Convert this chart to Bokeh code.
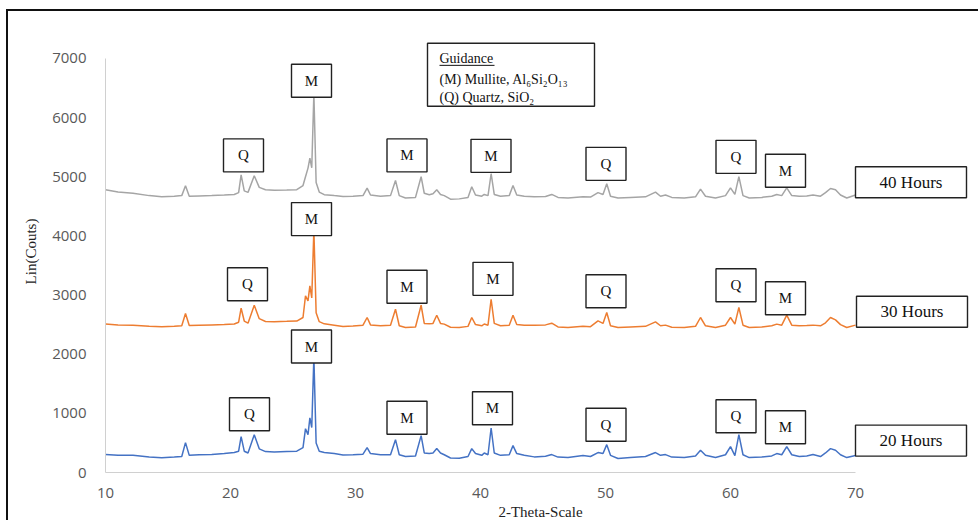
from bokeh.plotting import figure
from bokeh.models import Range1d, FixedTicker
from bokeh.core.properties import value
from bokeh.embed import file_html
from bokeh.resources import INLINE

# ---------------- data ----------------
two_theta = [10, 11, 12.2, 13.5, 14.5, 15.5, 16.1, 16.4, 16.7, 17.5, 18.5, 19.5, 20.3, 20.65, 20.85,
             21.1, 21.4, 21.9, 22.3, 22.8, 23.5, 24.5, 25.3, 25.8, 26.0, 26.2, 26.35, 26.5, 26.67,
             26.85, 27.1, 27.5, 28.3, 29.0, 29.8, 30.6, 30.93, 31.2, 32.0, 32.8, 33.2, 33.5, 34.0,
             34.8, 35.25, 35.5, 35.9, 36.2, 36.5, 36.8, 37.1, 37.6, 38.3, 39.0, 39.3, 39.6, 40.1,
             40.3, 40.6, 40.85, 41.1, 41.6, 42.3, 42.6, 42.9, 43.5, 44.3, 45.2, 45.7, 46.2, 47.0,
             48.2, 48.8, 49.4, 49.8, 50.1, 50.4, 51.0, 52.0, 53.2, 54.0, 54.4, 54.8, 55.3, 56.3,
             57.2, 57.6, 58.0, 58.8, 59.6, 60.0, 60.35, 60.67, 61.0, 61.5, 62.5, 63.3, 63.7, 64.1,
             64.5, 64.9, 65.5, 66.1, 66.6, 67.2, 67.6, 68.0, 68.4, 68.8, 69.3, 70.0]

counts_20h = [303, 290, 290, 262, 250, 262, 270, 505, 290, 300, 305, 320, 337, 360, 606,
              360, 330, 640, 400, 353, 345, 355, 360, 420, 740, 640, 925, 760, 1950,
              500, 360, 337, 320, 297, 300, 310, 420, 320, 300, 300, 555, 300, 270,
              280, 623, 330, 320, 330, 404, 330, 300, 245, 240, 270, 404, 320, 290,
              330, 300, 752, 330, 290, 300, 454, 320, 290, 264, 275, 303, 260, 252,
              286, 270, 337, 320, 471, 290, 236, 252, 270, 337, 290, 303, 260, 252,
              280, 376, 290, 252, 300, 437, 286, 640, 300, 252, 260, 280, 320, 300,
              437, 300, 270, 280, 303, 270, 330, 404, 376, 300, 252, 286]

counts_30h = [2508, 2495, 2490, 2470, 2463, 2470, 2480, 2688, 2485, 2490, 2495, 2500, 2510, 2540, 2777,
              2560, 2524, 2827, 2600, 2553, 2550, 2555, 2560, 2620, 2985, 2900, 3153, 2950, 4100,
              2700, 2550, 2513, 2490, 2468, 2475, 2490, 2620, 2495, 2480, 2490, 2760, 2480, 2451,
              2460, 2827, 2520, 2513, 2520, 2659, 2520, 2508, 2455, 2451, 2470, 2620, 2500, 2480,
              2510, 2490, 2928, 2520, 2480, 2490, 2659, 2500, 2490, 2491, 2495, 2524, 2460, 2451,
              2470, 2465, 2563, 2520, 2704, 2480, 2451, 2460, 2470, 2546, 2480, 2491, 2455, 2451,
              2470, 2620, 2480, 2451, 2490, 2620, 2508, 2789, 2490, 2451, 2460, 2480, 2508, 2490,
              2659, 2490, 2480, 2485, 2491, 2480, 2530, 2620, 2580, 2500, 2451, 2491]

counts_40h = [4780, 4740, 4720, 4680, 4660, 4670, 4680, 4847, 4670, 4675, 4680, 4690, 4700, 4730, 5032,
              4760, 4735, 5015, 4820, 4780, 4770, 4775, 4780, 4850, 5000, 5145, 5313, 5150, 6400,
              4900, 4740, 4696, 4680, 4667, 4670, 4680, 4808, 4690, 4670, 4680, 4936, 4680, 4640,
              4650, 5000, 4720, 4696, 4710, 4780, 4700, 4680, 4620, 4625, 4650, 4830, 4690, 4670,
              4700, 4680, 5050, 4700, 4670, 4680, 4850, 4690, 4670, 4660, 4665, 4700, 4650, 4640,
              4660, 4655, 4730, 4700, 4880, 4670, 4640, 4650, 4660, 4740, 4670, 4690, 4650, 4640,
              4660, 4790, 4670, 4640, 4680, 4810, 4700, 5000, 4680, 4640, 4650, 4670, 4700, 4680,
              4810, 4680, 4670, 4675, 4690, 4670, 4730, 4800, 4780, 4690, 4640, 4690]

x_ticks = [10, 20, 30, 40, 50, 60, 70]
y_ticks = [0, 1000, 2000, 3000, 4000, 5000, 6000, 7000]

# phase labels (text and anchor in data units)
peak_labels = ["Q", "M", "M", "M", "Q", "Q", "M"]
label_x_20h = [21.52, 26.48, 34.12, 40.96, 50.04, 60.44, 64.4]
label_y_20h = [985, 2129, 926, 1086, 808, 951, 766]
label_x_30h = [21.36, 26.48, 34.12, 41.0, 50.04, 60.44, 64.4]
label_y_30h = [3181, 4283, 3139, 3273, 3063, 3164, 2945]
label_x_40h = [21.04, 26.48, 34.12, 40.84, 50.04, 60.44, 64.4]
label_y_40h = [5360, 6622, 5360, 5352, 5217, 5335, 5100]

series_names = ["20 Hours", "30 Hours", "40 Hours"]
series_label_x = [74.44, 74.52, 74.44]
series_label_y = [539, 2718, 4906]

guide_lines = ["Guidance", "(M) Mullite, Al\u2086Si\u2082O\u2081\u2083", "(Q) Quartz, SiO\u2082"]
guide_x = 36.72
guide_y = [7000, 6647, 6344]
guide_box_x = 42.44
guide_box_y = 6722

# ---------------- figure ----------------
SERIF = value("Liberation Serif")
p = figure(width=972, height=511,
           x_range=Range1d(10, 79.6), y_range=Range1d(0, 7471),
           output_backend="svg", toolbar_location=None,
           min_border_left=97, min_border_right=5, min_border_top=19, min_border_bottom=48)
p.margin = (9, 0, 0, 6)
p.styles = {"border-top": "2px solid #111", "border-left": "2px solid #111"}

p.grid.visible = False
p.outline_line_color = None
p.background_fill_color = "white"
p.border_fill_color = "white"

for ax in (p.xaxis[0], p.yaxis[0]):
    ax.axis_line_color = "#d0d0d0"
    ax.axis_line_width = 1
    ax.major_tick_line_color = None
    ax.minor_tick_line_color = None
    ax.major_label_text_color = "#595959"
    ax.major_label_text_font = "Open Sans"
    ax.major_label_text_font_size = "15px"
    ax.axis_label_text_font = "Liberation Serif"
    ax.axis_label_text_font_style = "normal"
    ax.axis_label_text_font_size = "15px"
    ax.axis_label_text_color = "#222222"

p.xaxis[0].ticker = FixedTicker(ticks=x_ticks)
p.xaxis[0].bounds = (10, 70)
p.xaxis[0].major_label_standoff = 9
p.xaxis[0].axis_label = "2-Theta-Scale"
p.xaxis[0].axis_label_standoff = 3

p.yaxis[0].ticker = FixedTicker(ticks=y_ticks)
p.yaxis[0].bounds = (0, 7000)
p.yaxis[0].major_label_standoff = 13
p.yaxis[0].axis_label = "Lin(Couts)"
p.yaxis[0].axis_label_standoff = 10

p.line(two_theta, counts_40h, line_color="#a5a5a5", line_width=1.5)
p.line(two_theta, counts_30h, line_color="#ed7d31", line_width=1.5)
p.line(two_theta, counts_20h, line_color="#4472c4", line_width=1.5)

# label boxes
for lx, ly in ((label_x_20h, label_y_20h), (label_x_30h, label_y_30h), (label_x_40h, label_y_40h)):
    p.rect(lx, ly, width=40, height=33, width_units="screen", height_units="screen",
           fill_color="white", line_color="#222222", line_width=1.4)
    p.text(lx, ly, text=peak_labels, text_font=SERIF, text_font_size="15px",
           text_color="#111111", text_align="center", text_baseline="middle")

p.rect(series_label_x, series_label_y, width=111, height=31, width_units="screen",
       height_units="screen", fill_color="white", line_color="#222222", line_width=1.4)
p.text(series_label_x, series_label_y, text=series_names, text_font=SERIF,
       text_font_size="17px", text_color="#111111", text_align="center", text_baseline="middle")

# guidance box
p.rect([guide_box_x], [guide_box_y], width=167, height=63, width_units="screen",
       height_units="screen", fill_color="white", line_color="#222222", line_width=1.4)
p.text([guide_x] * 3, guide_y, text=guide_lines, text_font=SERIF, text_font_size="14px",
       text_color="#111111", text_align="left", text_baseline="middle")
p.segment(x0=[guide_x], y0=[guide_y[0] - 118], x1=[guide_x + 4.4], y1=[guide_y[0] - 118],
          line_color="#111111", line_width=1)

open("out.html", "w").write(file_html(p, INLINE))
